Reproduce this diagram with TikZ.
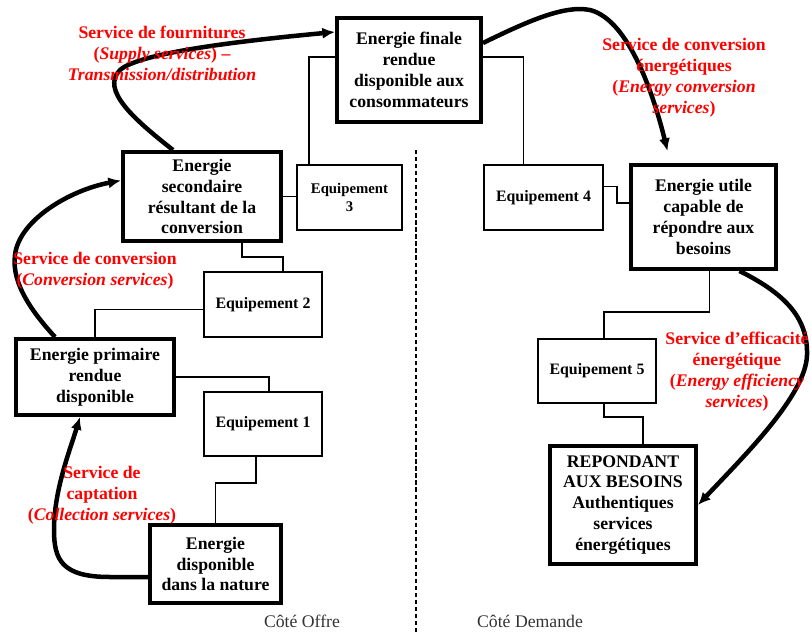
\documentclass[tikz,border=0pt]{standalone}
\usepackage{fontspec}
\setmainfont{Liberation Serif}
\usetikzlibrary{arrows.meta}
\usetikzlibrary{calc}

\begin{document}
\begin{tikzpicture}[x=0.025cm, y=-0.025cm,
    energy/.style={draw, rectangle, line width=2.8pt, inner sep=0pt, align=center, font=\fontsize{12.6}{14.9}\selectfont\bfseries},
    equip/.style={draw, rectangle, line width=1.2pt, inner sep=0pt, align=center, minimum width=2.95cm, minimum height=1.625cm, font=\fontsize{11.3}{12.5}\selectfont\bfseries},
    link/.style={line width=1pt},
    service/.style={line width=3.2pt, -{Latex[length=9pt,width=8pt]}},
    servlabel/.style={text=red, align=center, font=\fontsize{12.6}{14.9}\selectfont\bfseries},
    side/.style={text=black!80, font=\fontsize{12.6}{14.9}\selectfont}]

    \useasboundingbox (0,0) rectangle (811,633);

    % Energy boxes
    \node [energy, minimum width=3.6cm, minimum height=2.6cm] (final) at (409,70) {Energie finale\\rendue\\disponible aux\\consommateurs};
    \node [energy, minimum width=3.95cm, minimum height=2.225cm] (sec) at (202,196.5) {Energie\\secondaire\\résultant de la\\conversion};
    \node [energy, minimum width=3.95cm, minimum height=1.9cm] (prim) at (95,377) {Energie primaire\\rendue\\disponible};
    \node [energy, minimum width=3.275cm, minimum height=1.95cm] (nat) at (215.5,564) {Energie\\disponible\\dans la nature};
    \node [energy, minimum width=3.625cm, minimum height=2.6cm] (utile) at (703.5,217) {Energie utile\\capable de\\répondre aux\\besoins};
    \node [energy, minimum width=3.65cm, minimum height=2.95cm] (rep) at (623,505) {REPONDANT\\AUX BESOINS\\Authentiques\\services\\énergétiques};

    % Equipment boxes
    \node [equip, minimum width=2.625cm, font=\fontsize{10.5}{12.2}\selectfont\bfseries] (eq3) at (349.5,197.5) {Equipement\\3};
    \node [equip] (eq2) at (263,304.5) {Equipement 2};
    \node [equip, minimum height=1.6cm] (eq1) at (263,424) {Equipement 1};
    \node [equip, minimum width=2.975cm] (eq4) at (543.5,197.5) {Equipement 4};
    \node [equip, minimum height=1.6cm] (eq5) at (597,371) {Equipement 5};

    % Links between boxes and equipment
    \draw [link] (sec.east) -- (sec.east -| eq3.west);
    \draw [link] ($(eq3.north west)+(13,0)$) |- ($(final.west)+(0,-13)$);
    \draw [link] ($(sec.south)+(40,0)$) -- ++(0,14) -| ($(eq2.north)+(20,0)$);
    \draw [link] ($(eq2.west)+(0,5)$) -| (prim.north);
    \draw [link] (prim.east) -| ($(eq1.north)+(6,0)$);
    \draw [link] ($(eq1.south)+(-7,0)$) -- ++(0,26) -| (nat.north);
    \draw [link] ($(final.east)+(0,-13)$) -| ($(eq4.north)+(-20,0)$);
    \draw [link] ($(eq4.east)+(0,-11)$) -- ++(13,0) |- ($(utile.west)+(0,-14)$);
    \draw [link] ($(utile.south)+(6,0)$) -- ++(0,41) -| ($(eq5.north)+(7,0)$);
    \draw [link] ($(eq5.south)+(7,0)$) -- ++(0,13) -| ($(rep.north)+(20,0)$);

    % Service arrows
    \draw [service] ($(nat.west)+(0,13)$) -- (110,577) .. controls (62,577) and (54,560) .. (54,530) .. controls (54,490) and (70,450) .. ($(prim.south)+(-15,0)$);
    \draw [service] ($(prim.north)+(-40,0)$) .. controls (35,315) and (11,285) .. (15,255) .. controls (19,220) and (70,190) .. ($(sec.west)+(0,-16)$);
    \draw [service] ($(sec.north)+(-29,0)$) .. controls (135,120) and (100,90) .. (120,70) .. controls (140,52) and (250,40) .. ($(final.west)+(0,-38)$);
    \draw [service] ($(final.east)+(0,-27)$) .. controls (530,20) and (565,5) .. (590,10) .. controls (630,20) and (655,100) .. ($(utile.north)+(-36,-12)$);
    \draw [service] ($(utile.south)+(36,0)$) .. controls (788,295) and (808,320) .. (807,355) .. controls (806,395) and (745,455) .. (rep.east);

    % Service labels
    \node [servlabel] (fourn) at (162,53.5) {Service de fournitures\\(\textit{Supply services}) --\\\textit{Transmission/distribution}};
    \node [servlabel] (conv) at (95,271) {Service de conversion\\(\textit{Conversion services})};
    \node [servlabel] (capt) at (102,495) {Service de\\captation\\(\textit{Collection services})};
    \node [servlabel] (econv) at (684,77.5) {Service de conversion\\énergétiques\\(\textit{Energy conversion}\\\textit{services})};
    \node [servlabel] (effic) at (737,371.5) {Service d’efficacité\\énergétique\\(\textit{Energy efficiency}\\\textit{services})};

    % Supply / demand sides
    \draw [line width=1pt, dash pattern=on 3pt off 2pt] (416,150) -- (416,633);
    \node [side] (offre) at (302,621) {Côté Offre};
    \node [side] (demande) at (530,621) {Côté Demande};

\end{tikzpicture}
\end{document}
